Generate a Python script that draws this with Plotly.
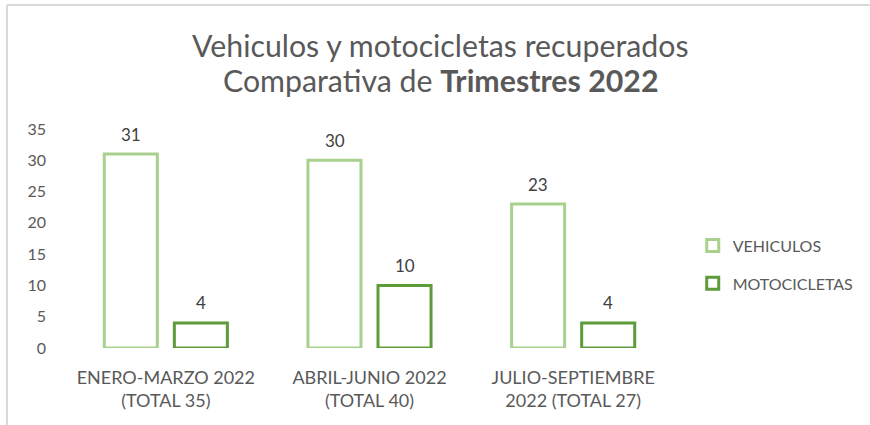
import plotly.graph_objects as go

categories = ["ENERO-MARZO 2022<br>(TOTAL 35)", "ABRIL-JUNIO 2022<br>(TOTAL 40)", "JULIO-SEPTIEMBRE<br>2022 (TOTAL 27)"]
vehiculos = [31, 30, 23]
motocicletas = [4, 10, 4]
y_ticks = [0, 5, 10, 15, 20, 25, 30, 35]
title_line1 = "Vehiculos y motocicletas recuperados"
title_line2 = "Comparativa de <b>Trimestres 2022</b>"

FONT = "Lato"
GRAY = "#595959"
LABEL = "#404040"
C_VEH = "#A9D18E"
C_MOTO = "#5E9B3A"

fig = go.Figure()
fig.add_trace(go.Bar(
    name="VEHICULOS", x=categories, y=vehiculos, legendgroup="v",
    marker=dict(color="white", line=dict(color=C_VEH, width=3)),
))
fig.add_trace(go.Bar(
    name="MOTOCICLETAS", x=categories, y=motocicletas, legendgroup="m",
    marker=dict(color="white", line=dict(color=C_MOTO, width=3)),
))

# data labels above the bars
for vals, shift in ((vehiculos, -35), (motocicletas, 35)):
    for c, v in zip(categories, vals):
        fig.add_annotation(x=c, y=v, text=str(v), showarrow=False,
                           xshift=shift, yshift=20, yanchor="middle",
                           font=dict(family=FONT, size=17, color=LABEL))

# title lines
fig.add_annotation(xref="paper", yref="paper", x=0.6154, y=1.3836,
                   text=title_line1, showarrow=False, xanchor="center", yanchor="middle",
                   font=dict(family=FONT, size=30.3, color=GRAY))
fig.add_annotation(xref="paper", yref="paper", x=0.617, y=1.2237,
                   text=title_line2, showarrow=False, xanchor="center", yanchor="middle",
                   font=dict(family=FONT, size=30.3, color=GRAY))

fig.update_layout(
    width=870, height=425,
    margin=dict(l=64, r=195, t=129, b=77, autoexpand=False),
    paper_bgcolor="white", plot_bgcolor="white",
    barmode="group", bargap=0.312, bargroupgap=0.243,
    font=dict(family=FONT, color=GRAY),
    legend=dict(
        x=1.029, y=0.381, xanchor="left", yanchor="middle",
        font=dict(family=FONT, size=16, color=GRAY),
        traceorder="grouped", tracegroupgap=14, itemwidth=30,
    ),
    showlegend=True,
)
fig.update_yaxes(
    range=[0, 35], tickvals=y_ticks, showgrid=False, zeroline=False,
    showline=False, ticks="", tickfont=dict(family=FONT, size=16, color=GRAY),
    ticklabelstandoff=17,
)
fig.update_xaxes(
    showgrid=False, showline=False, ticks="",
    tickfont=dict(family=FONT, size=18, color=GRAY),
    ticklabelstandoff=17,
)
# chart border (light gray), as in the reference crop
fig.add_shape(type="line", xref="paper", yref="paper",
              x0=-0.0933, x1=1.4, y0=1.566, y1=1.566,
              line=dict(color="#D9D9D9", width=2))
fig.add_shape(type="line", xref="paper", yref="paper",
              x0=-0.0933, x1=-0.0933, y0=1.566, y1=-0.4,
              line=dict(color="#D9D9D9", width=2))

fig.write_html("out.html", config={"displayModeBar": False},
               post_script="document.body.style.margin='0';")
